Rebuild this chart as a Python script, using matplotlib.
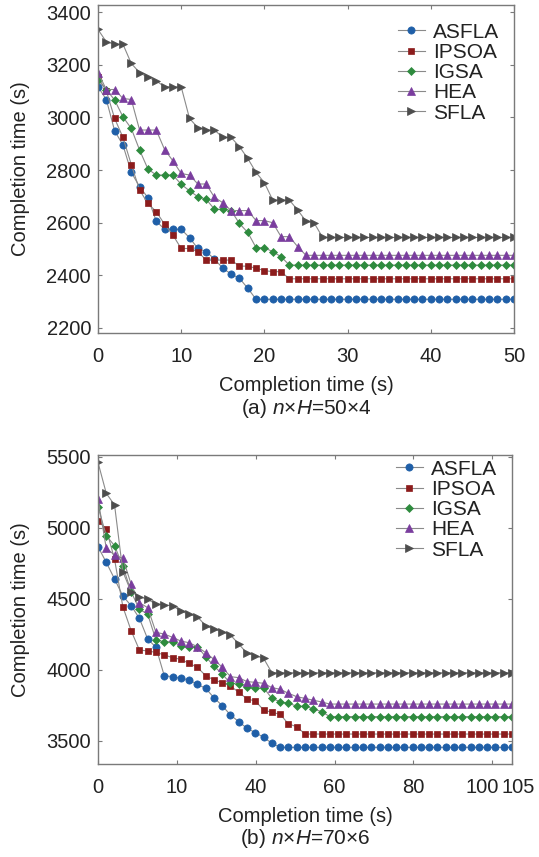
import numpy as np
import matplotlib
matplotlib.use('Agg')
import matplotlib.pyplot as plt
import matplotlib.transforms as mtransforms

plt.rcParams['font.family'] = ['Liberation Sans', 'DejaVu Sans']
plt.rcParams['mathtext.fontset'] = 'custom'
plt.rcParams['mathtext.rm'] = 'Liberation Sans'
plt.rcParams['mathtext.it'] = 'Liberation Sans:italic'

# ---- data: (a) n x H = 50 x 4, one point per iteration 0..50 ----
x_a = np.arange(51)
asfla_a = [3116, 3068, 2949, 2895, 2791, 2737, 2695, 2606, 2575, 2575, 2575,
           2543, 2502, 2490, 2462, 2427, 2405, 2389, 2351] + [2309] * 32
ipsoa_a = [3152, 3101, 2996, 2924, 2821, 2724, 2673, 2642, 2594, 2553, 2502,
           2502, 2490, 2458, 2458, 2458, 2458, 2435, 2435, 2427, 2418, 2414,
           2414] + [2387] * 28
igsa_a = [3142, 3106, 3066, 3002, 2958, 2876, 2804, 2781, 2781, 2781, 2746,
          2721, 2699, 2689, 2651, 2651, 2646, 2597, 2563, 2505, 2505, 2490,
          2471] + [2439] * 28
hea_a = [3170, 3106, 3106, 3072, 3068, 2952, 2952, 2952, 2878, 2835, 2787,
         2781, 2747, 2747, 2696, 2676, 2646, 2646, 2646, 2608, 2608, 2600,
         2547, 2547, 2509] + [2476] * 26
sfla_a = [3334, 3287, 3278, 3278, 3205, 3170, 3152, 3139, 3116, 3116, 3116,
          2996, 2961, 2952, 2952, 2924, 2924, 2889, 2844, 2791, 2752, 2686,
          2686, 2686, 2648, 2606, 2598] + [2544] * 24

# ---- data: (b) n x H = 70 x 6, 51 points over 0..105 ----
x_b = np.linspace(0, 105, 51)
asfla_b = [4868, 4758, 4641, 4521, 4453, 4364, 4218, 4160, 3960, 3953, 3941,
           3930, 3899, 3871, 3805, 3749, 3683, 3636, 3589, 3559, 3526, 3484] + [3455] * 29
ipsoa_b = [5051, 4993, 4779, 4446, 4277, 4141, 4134, 4124, 4106, 4087, 4075,
           4047, 4019, 3960, 3930, 3911, 3887, 3843, 3796, 3782, 3718, 3702,
           3688, 3620, 3601] + [3549] * 26
igsa_b = [5150, 4946, 4875, 4732, 4551, 4427, 4394, 4211, 4199, 4199, 4171,
          4164, 4164, 4094, 4028, 3972, 3906, 3901, 3878, 3871, 3875, 3800,
          3777, 3765, 3746, 3744, 3727, 3706] + [3672] * 23
hea_b = [5204, 4857, 4810, 4786, 4605, 4474, 4439, 4265, 4253, 4230, 4204,
         4192, 4164, 4122, 4075, 4019, 3953, 3946, 3918, 3913, 3906, 3876,
         3864, 3836, 3812, 3800, 3787, 3775] + [3760] * 23
sfla_b = [5462, 5244, 5162, 4692, 4551, 4516, 4497, 4465, 4458, 4453, 4415,
          4392, 4375, 4312, 4286, 4270, 4246, 4183, 4117, 4101, 4082] + [3981] * 30

names = ['ASFLA', 'IPSOA', 'IGSA', 'HEA', 'SFLA']
colors = ['#1f5fa8', '#8c1c1c', '#2e8b3e', '#7a3d9e', '#4d4d4d']
markers = ['o', 's', 'D', '^', '>']
sizes = [5.2, 5, 4.4, 5.2, 5.2]

fig = plt.figure(figsize=(5.39, 8.57), dpi=100)
ax1 = fig.add_axes([98 / 539, 1 - 333 / 857, 416 / 539, 328 / 857])
ax2 = fig.add_axes([98 / 539, 1 - 764 / 857, 414 / 539, 309 / 857])


def draw(ax, x, series, anchor_y):
    for ys, name, c, m, s in zip(series, names, colors, markers, sizes):
        ax.plot(x, ys, color='#8a8a8a', lw=0.8, marker=m, ms=s,
                mfc=c, mec=c, mew=0.5, label=name)
    ax.tick_params(direction='in', length=3, width=0.8, top=True, right=True,
                   labelsize=14.5, colors='#7a7a7a', labelcolor='#222222')
    ax.tick_params(axis='x', pad=10)
    ax.tick_params(axis='y', pad=5)
    for sp in ax.spines.values():
        sp.set_color('#7a7a7a')
        sp.set_linewidth(1.0)
    ax.set_ylabel('Completion time (s)', fontsize=14.5, color='#222222', labelpad=12)
    ax.set_xlabel('Completion time (s)', fontsize=14.5, color='#222222', labelpad=7)
    ax.legend(loc='upper right', bbox_to_anchor=(1, anchor_y), frameon=False,
              fontsize=15, handlelength=1.3, handletextpad=0.4,
              labelspacing=0.06, borderaxespad=0.3, labelcolor='#222222')


draw(ax1, x_a, [asfla_a, ipsoa_a, igsa_a, hea_a, sfla_a], 1 - 3 / 328)
ax1.set_xlim(0, 50)
ax1.set_ylim(2181, 3427)
ax1.set_xticks([0, 10, 20, 30, 40, 50])
ax1.set_yticks([2200, 2400, 2600, 2800, 3000, 3200, 3400])

draw(ax2, x_b, [asfla_b, ipsoa_b, igsa_b, hea_b, sfla_b], 1 + 10 / 309)
ax2.set_xlim(0, 105)
ax2.set_ylim(3338, 5514)
ax2.set_xticks([0, 20, 40, 60, 80, 100, 105])
ax2.set_xticklabels(['0', '10', '40', '60', '80', '100', '105'])
ax2.set_yticks([3500, 4000, 4500, 5000, 5500])
lbls = ax2.get_xticklabels()
lbls[-2].set_transform(lbls[-2].get_transform() +
                       mtransforms.ScaledTranslation(-10 / 100, 0, fig.dpi_scale_trans))
lbls[-1].set_transform(lbls[-1].get_transform() +
                       mtransforms.ScaledTranslation(6 / 100, 0, fig.dpi_scale_trans))

fig.text(0.5 * (98 + 514) / 539, 1 - 409 / 857, r'(a) $n$×$H$=50×4',
         ha='center', va='center', fontsize=15, color='#222222')
fig.text(0.5 * (98 + 512) / 539, 1 - 839 / 857, r'(b) $n$×$H$=70×6',
         ha='center', va='center', fontsize=15, color='#222222')

fig.savefig('out.png', dpi=100)
